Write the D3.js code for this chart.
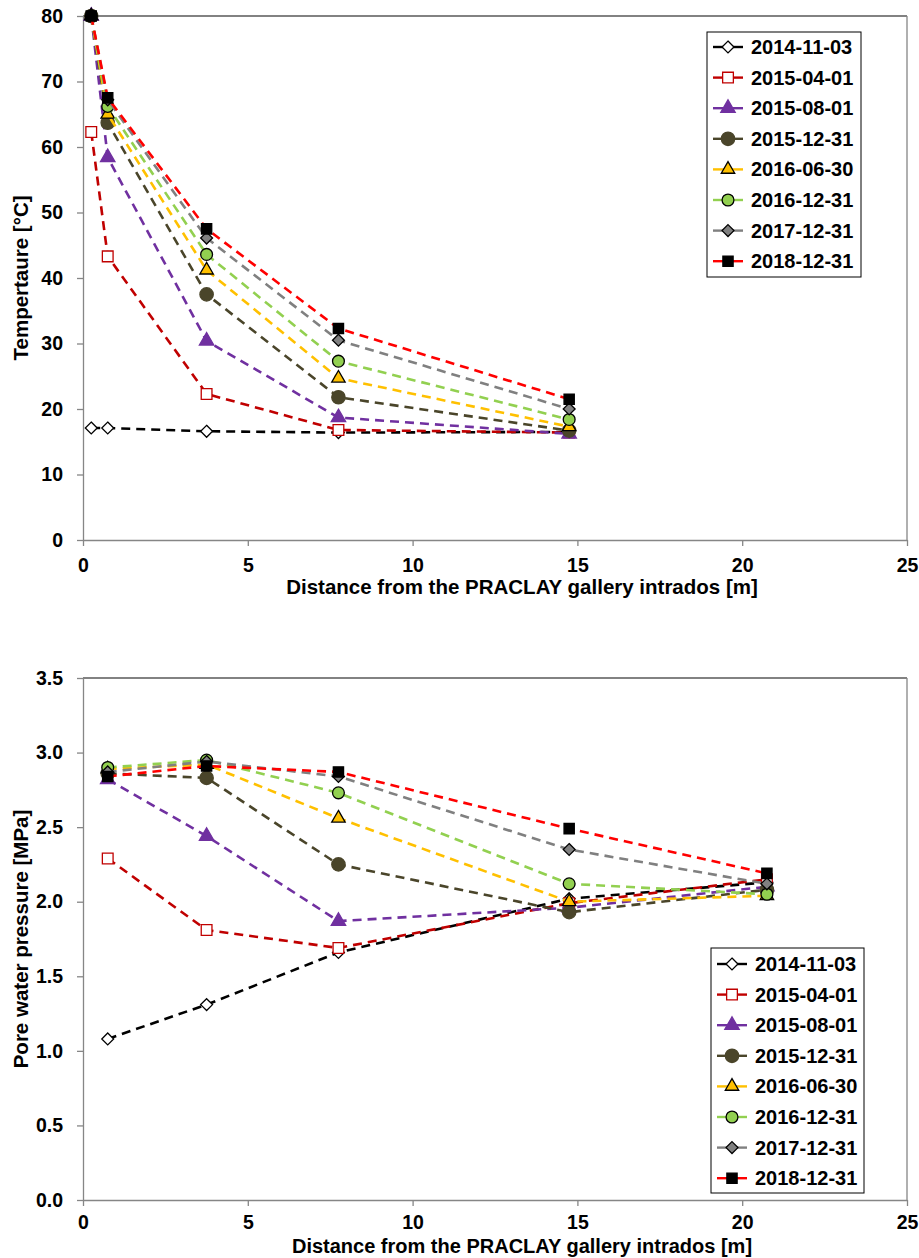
<!DOCTYPE html>
<html><head><meta charset="utf-8">
<script src="https://cdn.jsdelivr.net/npm/d3@7/dist/d3.min.js"></script>
<style>
body{margin:0;background:#fff;}
svg{display:block;font-family:"Liberation Sans",Arial,sans-serif;font-weight:bold;}
</style></head>
<body><svg id="c" width="919" height="1258"></svg>
<script>
// ---------- data ----------
const seriesNames = ["2014-11-03","2015-04-01","2015-08-01","2015-12-31","2016-06-30","2016-12-31","2017-12-31","2018-12-31"];
const tempX = [0.25, 0.75, 3.75, 7.75, 14.75];
const temp20141103 = [17.1, 17.1, 16.6, 16.4, 16.5];
const temp20150401 = [62.3, 43.3, 22.3, 16.8, 16.4];
const temp20150801 = [80, 58.4, 30.4, 18.7, 16.2];
const temp20151231 = [80, 63.7, 37.5, 21.8, 16.7];
const temp20160630 = [80, 65.0, 41.2, 24.7, 17.3];
const temp20161231 = [80, 66.2, 43.6, 27.3, 18.4];
const temp20171231 = [80, 67.2, 46.1, 30.5, 20.0];
const temp20181231 = [80, 67.5, 47.5, 32.3, 21.5];

const ppX = [0.75, 3.75, 7.75, 14.75, 20.75];
const pp20141103 = [1.08, 1.31, 1.66, 2.02, 2.13];
const pp20150401 = [2.29, 1.81, 1.69, 1.99, 2.15];
const pp20150801 = [2.82, 2.44, 1.87, 1.96, 2.10];
const pp20151231 = [2.86, 2.83, 2.25, 1.93, 2.08];
const pp20160630 = [2.89, 2.92, 2.56, 2.00, 2.04];
const pp20161231 = [2.90, 2.95, 2.73, 2.12, 2.05];
const pp20171231 = [2.87, 2.94, 2.84, 2.35, 2.12];
const pp20181231 = [2.84, 2.91, 2.87, 2.49, 2.19];

const xTicks = [0, 5, 10, 15, 20, 25];
const tempTicks = [0, 10, 20, 30, 40, 50, 60, 70, 80];
const ppTicks = [0.0, 0.5, 1.0, 1.5, 2.0, 2.5, 3.0, 3.5];

const tempSeries = [temp20141103, temp20150401, temp20150801, temp20151231, temp20160630, temp20161231, temp20171231, temp20181231];
const ppSeries = [pp20141103, pp20150401, pp20150801, pp20151231, pp20160630, pp20161231, pp20171231, pp20181231];

// ---------- styles ----------
const styles = [
  {line:"#000000", shape:"diamond", fill:"#ffffff", stroke:"#000000"},
  {line:"#C00000", shape:"square",  fill:"#ffffff", stroke:"#C00000", big:true},
  {line:"#7030A0", shape:"triangle",fill:"#7030A0", stroke:"#7030A0"},
  {line:"#4A452A", shape:"circle",  fill:"#4A452A", stroke:"#4A452A", big:true},
  {line:"#FFC000", shape:"triangle",fill:"#FFC000", stroke:"#000000"},
  {line:"#92D050", shape:"circle",  fill:"#92D050", stroke:"#000000"},
  {line:"#808080", shape:"diamond", fill:"#808080", stroke:"#000000"},
  {line:"#FF0000", shape:"square",  fill:"#000000", stroke:"#000000"}
];
function symPath(st){
  let type, size;
  if (st.shape==="diamond"){ type=d3.symbolDiamond2; size=90; }
  else if (st.shape==="square"){ type=d3.symbolSquare; size= st.big?115:105; }
  else if (st.shape==="triangle"){ type=d3.symbolTriangle; size= st.stroke===st.fill?90:78; }
  else { type=d3.symbolCircle; size= st.big?140:110; }
  return d3.symbol().type(type).size(size)();
}

const svg = d3.select("#c");
const axisColor = "#868686";

function drawChart(cfg){
  const x = d3.scaleLinear().domain([0,25]).range([83,907]);
  const y = d3.scaleLinear().domain(cfg.ydom).range([cfg.bottom, cfg.top]);
  const g = svg.append("g");

  // frame top & right
  g.append("line").attr("x1",x(0)).attr("x2",x(25)).attr("y1",cfg.top).attr("y2",cfg.top).attr("stroke","#595959").attr("stroke-width",1.3);
  g.append("line").attr("x1",x(25)).attr("x2",x(25)).attr("y1",cfg.top).attr("y2",cfg.bottom).attr("stroke",axisColor).attr("stroke-width",1.3);

  const xa = g.append("g").attr("transform",`translate(0,${cfg.bottom})`)
    .call(d3.axisBottom(x).tickValues(xTicks).tickFormat(d3.format("d")).tickSizeInner(6).tickSizeOuter(0).tickPadding(cfg.xPad));
  const ya = g.append("g").attr("transform",`translate(${x(0)},0)`)
    .call(d3.axisLeft(y).tickValues(cfg.ticks).tickFormat(cfg.fmt).tickSizeInner(6).tickSizeOuter(0).tickPadding(14));
  [xa,ya].forEach(a=>{
    a.select(".domain").attr("stroke",axisColor).attr("stroke-width",1.3);
    a.selectAll(".tick line").attr("stroke",axisColor).attr("stroke-width",1.3);
    a.selectAll(".tick text").attr("fill","#000").style("font-size","19.5px").style("font-weight","bold").style("font-family",'"Liberation Sans",Arial,sans-serif');
  });

  // titles
  g.append("text").attr("x",522).attr("y",cfg.bottom+cfg.xtOff).attr("text-anchor","middle")
    .style("font-size",cfg.xtSize).text("Distance from the PRACLAY gallery intrados [m]");
  g.append("text").attr("transform",`translate(28,${(cfg.top+cfg.bottom)/2}) rotate(-90)`).attr("text-anchor","middle")
    .style("font-size","20.5px").text(cfg.ytitle);

  // series
  const line = d3.line().x(d=>x(d[0])).y(d=>y(d[1]));
  cfg.series.forEach((vals,i)=>{
    const pts = cfg.xs.map((xv,j)=>[xv, vals[j]]);
    g.append("path").attr("d",line(pts)).attr("fill","none").attr("stroke",styles[i].line)
      .attr("stroke-width",2.6).attr("stroke-dasharray","9,6");
    const p = symPath(styles[i]);
    g.selectAll(null).data(pts).enter().append("path")
      .attr("d",p).attr("transform",d=>`translate(${x(d[0])},${y(d[1])})`)
      .attr("fill",styles[i].fill).attr("stroke",styles[i].stroke).attr("stroke-width",1.3);
  });

  // legend
  const L = cfg.legend;
  const lg = g.append("g");
  lg.append("rect").attr("x",L.x).attr("y",L.y).attr("width",L.w).attr("height",L.h)
    .attr("fill","#fff").attr("stroke","#000").attr("stroke-width",1);
  seriesNames.forEach((name,i)=>{
    const cy = L.first + i*L.step;
    lg.append("line").attr("x1",L.x+6).attr("x2",L.x+36).attr("y1",cy).attr("y2",cy)
      .attr("stroke",styles[i].line).attr("stroke-width",2.4);
    lg.append("path").attr("d",symPath(styles[i])).attr("transform",`translate(${L.x+21},${cy})`)
      .attr("fill",styles[i].fill).attr("stroke",styles[i].stroke).attr("stroke-width",1.3);
    lg.append("text").attr("x",L.x+44).attr("y",cy+7).style("font-size","20px").text(name);
  });
}

drawChart({top:16, bottom:540, ydom:[0,80], ticks:tempTicks, fmt:d3.format("d"),
  ytitle:"Tempertaure [°C]", xs:tempX, series:tempSeries, xtOff:54, xPad:12, xtSize:"20.5px",
  legend:{x:707, y:32, w:154, h:245, first:47, step:30.6}});
drawChart({top:678, bottom:1200, ydom:[0,3.5], ticks:ppTicks, fmt:d3.format(".1f"),
  ytitle:"Pore water pressure [MPa]", xs:ppX, series:ppSeries, xtOff:53, xPad:9, xtSize:"20px",
  legend:{x:711, y:948, w:153, h:245, first:964, step:30.6}});
</script></body></html>
